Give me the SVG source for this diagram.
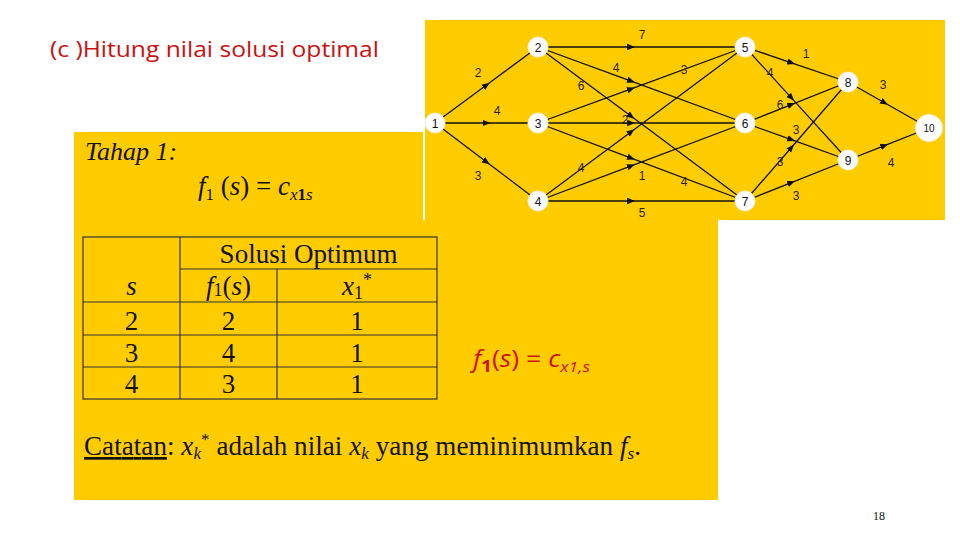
<svg xmlns="http://www.w3.org/2000/svg" width="960" height="540" viewBox="0 0 960 540">
<defs>
<style>
.ser{font-family:"Liberation Serif","Times New Roman",serif;fill:#111}
.it{font-style:italic}
.edge{stroke:#111;stroke-width:1.3;fill:none;marker-mid:url(#ah)}
.node circle{fill:#fff;stroke:#f5f0e0;stroke-width:1}
.node text{font-family:"Liberation Sans",Arial,sans-serif;font-size:12px;fill:#111;text-anchor:middle}
.elab{font-family:"Liberation Sans",Arial,sans-serif;font-size:12px;fill:#2a2200;text-anchor:middle}
.tl{stroke:#333;stroke-width:1.2;fill:none}
.red{font-family:"Open Sans","Liberation Sans",sans-serif;fill:#cc1111}
</style>
<marker id="ah" viewBox="0 0 10 10" refX="5" refY="5" markerWidth="8" markerHeight="8" orient="auto" markerUnits="userSpaceOnUse">
<path d="M0,1 L10,5 L0,9 z" fill="#111"/>
</marker>
</defs>
<rect width="960" height="540" fill="#fff"/>
<!-- main yellow panel -->
<rect x="74" y="132" width="644" height="368" fill="#FFCC00"/>
<!-- graph image background -->
<rect x="425" y="20" width="520" height="200" fill="#FFCC00"/>
<line x1="424" y1="20" x2="424" y2="220" stroke="#fff" stroke-width="2"/>

<text class="red" x="50" y="57" font-size="22.5" textLength="329" lengthAdjust="spacingAndGlyphs">(c )Hitung nilai solusi optimal</text>

<g id="connectors">
<path class="edge" d="M435,123 L486.5,85 L538,47"/>
<path class="edge" d="M435,123 L486.5,123 L538,123"/>
<path class="edge" d="M435,123 L486.5,162 L538,201"/>
<path class="edge" d="M538,47 L631.2,47 L745,47" stroke-width="2.4"/>
<path class="edge" d="M538,47 L631.2,81.2 L745,123"/>
<path class="edge" d="M538,47 L631.2,116.3 L745,201"/>
<path class="edge" d="M538,123 L631.2,88.8 L745,47"/>
<path class="edge" d="M538,123 L631.2,123 L745,123"/>
<path class="edge" d="M538,123 L631.2,158.1 L745,201"/>
<path class="edge" d="M538,201 L631.2,131.7 L745,47"/>
<path class="edge" d="M538,201 L631.2,165.9 L745,123"/>
<path class="edge" d="M538,201 L631.2,201 L745,201"/>
<path class="edge" d="M745,47 L791.4,62.8 L848,82"/>
<path class="edge" d="M745,47 L791.4,97.9 L848,160"/>
<path class="edge" d="M745,123 L791.4,104.6 L848,82"/>
<path class="edge" d="M745,123 L791.4,139.7 L848,160"/>
<path class="edge" d="M745,201 L791.4,147.5 L848,82"/>
<path class="edge" d="M745,201 L791.4,182.6 L848,160"/>
<path class="edge" d="M848,82 L884.5,102.7 L929,128"/>
<path class="edge" d="M848,160 L884.5,145.6 L929,128"/>
<text class="elab" x="478" y="77">2</text>
<text class="elab" x="497" y="115">4</text>
<text class="elab" x="478" y="180">3</text>
<text class="elab" x="642" y="39">7</text>
<text class="elab" x="616" y="72">4</text>
<text class="elab" x="581" y="90">6</text>
<text class="elab" x="684" y="74">3</text>
<text class="elab" x="625" y="124">2</text>
<text class="elab" x="684" y="186">4</text>
<text class="elab" x="581" y="172">4</text>
<text class="elab" x="642" y="180">1</text>
<text class="elab" x="642" y="217">5</text>
<text class="elab" x="806" y="58">1</text>
<text class="elab" x="770" y="77">4</text>
<text class="elab" x="780" y="109">6</text>
<text class="elab" x="796" y="134">3</text>
<text class="elab" x="780" y="166">3</text>
<text class="elab" x="796" y="200">3</text>
<text class="elab" x="883" y="89">3</text>
<text class="elab" x="891" y="167">4</text>
</g>

<g id="n1" class="node"><circle cx="435" cy="123" r="10"/><text x="435" y="127.5">1</text></g>
<g id="n2" class="node"><circle cx="538" cy="47" r="10"/><text x="538" y="51.5">2</text></g>
<g id="n3" class="node"><circle cx="538" cy="123" r="10"/><text x="538" y="127.5">3</text></g>
<g id="n4" class="node"><circle cx="538" cy="201" r="10"/><text x="538" y="205.5">4</text></g>
<g id="n5" class="node"><circle cx="745" cy="47" r="10"/><text x="745" y="51.5">5</text></g>
<g id="n6" class="node"><circle cx="745" cy="123" r="10"/><text x="745" y="127.5">6</text></g>
<g id="n7" class="node"><circle cx="745" cy="201" r="10"/><text x="745" y="205.5">7</text></g>
<g id="n8" class="node"><circle cx="848" cy="82" r="10"/><text x="848" y="86.5">8</text></g>
<g id="n9" class="node"><circle cx="848" cy="160" r="10"/><text x="848" y="164.5">9</text></g>
<g id="n10" class="node"><circle cx="929" cy="128" r="13.5"/><text x="929" y="131.5" style="font-size:10px">10</text></g>

<!-- Tahap 1 -->
<text class="ser it" x="85" y="160" font-size="26">Tahap 1:</text>
<text class="ser" x="198" y="195" font-size="27"><tspan class="it">f</tspan><tspan font-size="17" dy="5">1</tspan><tspan dy="-5"> (</tspan><tspan class="it">s</tspan><tspan>) = </tspan><tspan class="it">c</tspan><tspan font-size="17" dy="5" class="it">x</tspan><tspan font-size="17" font-weight="bold">1</tspan><tspan font-size="17" class="it">s</tspan></text>

<!-- table -->
<g id="table">
<rect class="tl" x="83" y="237" width="354" height="162"/>
<line class="tl" x1="180" y1="237" x2="180" y2="399"/>
<line class="tl" x1="277" y1="269" x2="277" y2="399"/>
<line class="tl" x1="180" y1="269" x2="437" y2="269"/>
<line class="tl" x1="83" y1="302" x2="437" y2="302" stroke-width="2"/>
<line class="tl" x1="83" y1="335" x2="437" y2="335"/>
<line class="tl" x1="83" y1="367" x2="437" y2="367"/>
<g class="ser" font-size="27" text-anchor="middle">
<text x="308.5" y="263">Solusi Optimum</text>
<text x="131.5" y="295" class="it">s</text>
<text x="228.5" y="295"><tspan class="it">f</tspan><tspan font-size="18" dy="1">1</tspan><tspan dy="-1">(</tspan><tspan class="it">s</tspan>)</text>
<text x="357" y="295"><tspan class="it">x</tspan><tspan font-size="18" dy="4">1</tspan><tspan font-size="18" dy="-13">*</tspan></text>
<text x="131.5" y="330">2</text><text x="228.5" y="330">2</text><text x="357" y="330">1</text>
<text x="131.5" y="362">3</text><text x="228.5" y="362">4</text><text x="357" y="362">1</text>
<text x="131.5" y="393">4</text><text x="228.5" y="393">3</text><text x="357" y="393">1</text>
</g>
</g>

<text class="red" x="473" y="367" font-size="23" textLength="117" lengthAdjust="spacingAndGlyphs"><tspan font-style="italic">f</tspan><tspan font-size="16" dy="5" font-weight="bold">1</tspan><tspan dy="-5">(</tspan><tspan font-style="italic">s</tspan><tspan>) = </tspan><tspan font-style="italic">c</tspan><tspan font-size="15" dy="5" font-style="italic">x1,s</tspan></text>

<text class="ser" x="84" y="455" font-size="27" textLength="557" lengthAdjust="spacing"><tspan text-decoration="underline">Catatan</tspan>: <tspan class="it">x</tspan><tspan class="it" font-size="17" dy="4">k</tspan><tspan font-size="17" dy="-14">*</tspan><tspan dy="10"> adalah nilai </tspan><tspan class="it">x</tspan><tspan class="it" font-size="17" dy="4">k</tspan><tspan dy="-4"> yang meminimumkan </tspan><tspan class="it">f</tspan><tspan class="it" font-size="17" dy="4">s</tspan><tspan dy="-4">.</tspan></text>

<text class="ser" x="879" y="520" font-size="12" text-anchor="middle" fill="#444">18</text>
</svg>
